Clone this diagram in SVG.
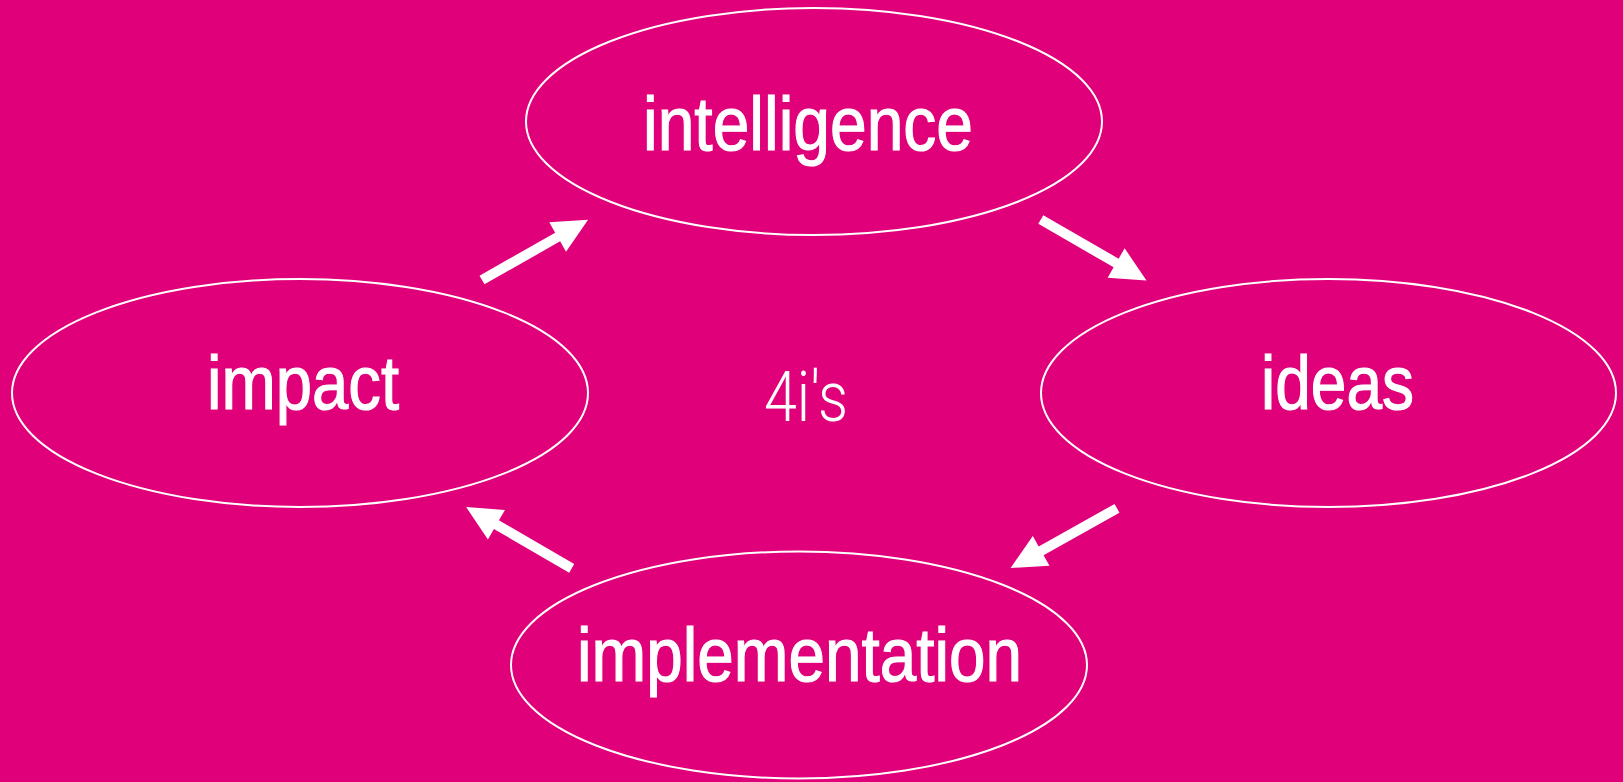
<svg xmlns="http://www.w3.org/2000/svg" width="1623" height="782" viewBox="0 0 1623 782">
  <defs>
    <style>
      .bg { fill: #E0007A; }
      .node ellipse { fill: none; stroke: #FFFFFF; stroke-width: 2; }
      .label { fill: #FFFFFF; stroke: #FFFFFF; stroke-width: 1.2; font-family: "Liberation Sans", Arial, sans-serif; font-size: 76px; }
      .center { fill: #FFFFFF; font-family: Roboto, "Open Sans", "Liberation Sans", sans-serif; font-weight: 300; font-size: 70px; }
      .arrow { fill: #FFFFFF; }
    </style>
    <!-- block arrow pointing along +x, tail at the origin -->
    <path id="blockArrow" d="M0,-5 H87 V-17 L122,0 L87,17 V5 H0 Z"/>
  </defs>

  <rect class="bg" x="0" y="0" width="1623" height="782"/>

  <g id="node-intelligence" class="node">
    <ellipse cx="814" cy="121.5" rx="288" ry="113.5"/>
    <text class="label" x="643" y="150" textLength="330" lengthAdjust="spacingAndGlyphs">intelligence</text>
  </g>

  <g id="node-ideas" class="node">
    <ellipse cx="1328.5" cy="393" rx="287.5" ry="114"/>
    <text class="label" x="1261" y="409" textLength="153" lengthAdjust="spacingAndGlyphs">ideas</text>
  </g>

  <g id="node-implementation" class="node">
    <ellipse cx="799" cy="665" rx="288" ry="113.5"/>
    <text class="label" x="577" y="681" textLength="445" lengthAdjust="spacingAndGlyphs">implementation</text>
  </g>

  <g id="node-impact" class="node">
    <ellipse cx="300" cy="393" rx="288" ry="114"/>
    <text class="label" x="207" y="409" textLength="192" lengthAdjust="spacingAndGlyphs">impact</text>
  </g>

  <g id="title">
    <text class="center" x="764" y="421" textLength="84" lengthAdjust="spacingAndGlyphs">4i's</text>
  </g>

  <g id="connectors" class="arrow">
    <use href="#blockArrow" transform="translate(482,280) rotate(-29.6)"/>
    <use href="#blockArrow" transform="translate(1040.8,219.5) rotate(30)"/>
    <use href="#blockArrow" transform="translate(1117,508.3) rotate(150.7)"/>
    <use href="#blockArrow" transform="translate(571.7,568.3) rotate(-149.9)"/>
  </g>
</svg>
